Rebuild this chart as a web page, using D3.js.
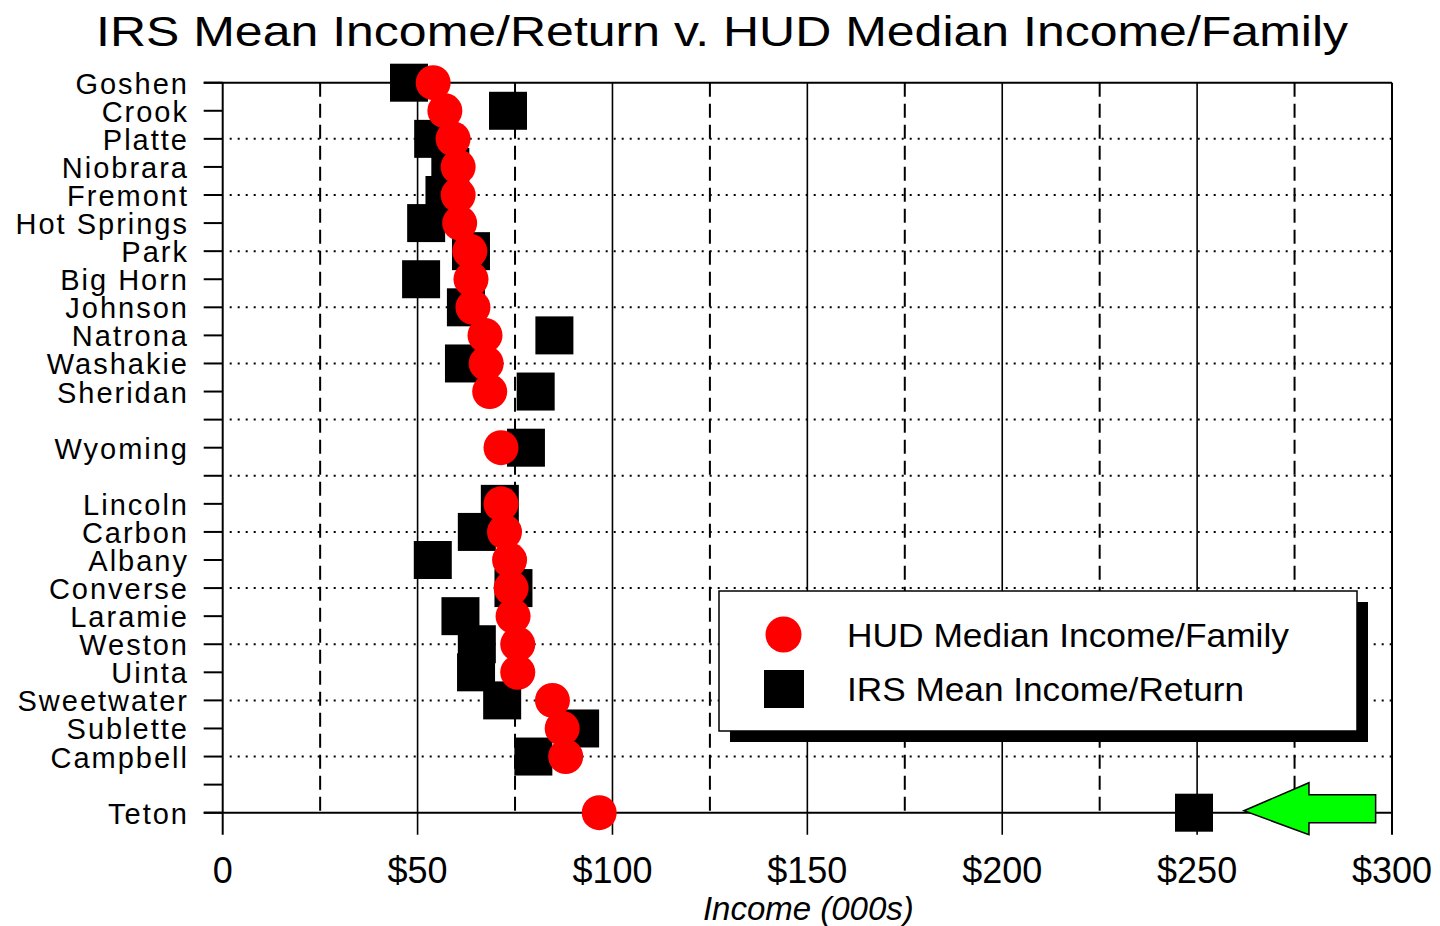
<!DOCTYPE html>
<html>
<head>
<meta charset="utf-8">
<script src="https://cdn.jsdelivr.net/npm/d3@7"></script>
<style>
	body { margin: 0; background: #fff; }
	text { font-family: "Liberation Sans", Arial, sans-serif; }
</style>
</head>
<body>
<div id="chart"></div>
<script>
// rows top to bottom, "" = spacer row
var counties = ["Goshen", "Crook", "Platte", "Niobrara", "Fremont", "Hot Springs", "Park", "Big Horn",
	"Johnson", "Natrona", "Washakie", "Sheridan", "", "Wyoming", "", "Lincoln", "Carbon", "Albany",
	"Converse", "Laramie", "Weston", "Uinta", "Sweetwater", "Sublette", "Campbell", "", "Teton"];

// HUD median income per family (000s)
var hud = [54.0, 57.0, 59.1, 60.4, 60.4, 60.8, 63.4, 63.7, 64.2, 67.3, 67.6, 68.5, null, 71.4, null,
	71.4, 72.3, 73.6, 74.0, 74.5, 75.7, 75.7, 84.6, 87.1, 88.0, null, 96.6];

// IRS mean income per return (000s)
var irs = [47.8, 73.2, 54.0, 58.4, 56.9, 52.2, 63.7, 50.9, 62.4, 85.1, 61.9, 80.3, null, 77.8, null,
	71.1, 65.2, 53.9, 74.6, 61.0, 65.2, 65.0, 71.7, 91.7, 79.7, null, 249.2];

var xTicks = [0, 50, 100, 150, 200, 250, 300];
var xMinor = [25, 75, 125, 175, 225, 275];
var xTickLabels = ["0", "$50", "$100", "$150", "$200", "$250", "$300"];

var W = 1440, H = 926;
var plotL = 222.7, plotR = 1392, plotT = 82.7, plotB = 812.7;

var svg = d3.select("#chart").append("svg")
	.attr("width", W)
	.attr("height", H);

var x = d3.scaleLinear().domain([0, 300]).range([plotL, plotR]);
var y = d3.scalePoint().domain(d3.range(counties.length)).range([plotT, plotB]);

// title
svg.append("text")
	.attr("x", 96)
	.attr("y", 46)
	.attr("font-size", 43)
	.attr("textLength", 1252)
	.attr("lengthAdjust", "spacingAndGlyphs")
	.text("IRS Mean Income/Return v. HUD Median Income/Family");

var grid = svg.append("g");

// dotted horizontal lines every other row
grid.selectAll(".hdot")
	.data(d3.range(2, counties.length - 1, 2))
	.enter().append("line")
	.attr("x1", plotL + 7)
	.attr("x2", plotR)
	.attr("y1", function(d){ return y(d); })
	.attr("y2", function(d){ return y(d); })
	.attr("stroke", "#000")
	.attr("stroke-width", 2)
	.attr("stroke-dasharray", "2,6");

// dashed verticals
grid.selectAll(".vdash")
	.data(xMinor)
	.enter().append("line")
	.attr("x1", function(d){ return x(d); })
	.attr("x2", function(d){ return x(d); })
	.attr("y1", plotT)
	.attr("y2", plotB)
	.attr("stroke", "#000")
	.attr("stroke-width", 2)
	.attr("stroke-dasharray", "14,7");

// solid verticals with ticks under the axis
grid.selectAll(".vsolid")
	.data(xTicks)
	.enter().append("line")
	.attr("x1", function(d){ return x(d); })
	.attr("x2", function(d){ return x(d); })
	.attr("y1", plotT)
	.attr("y2", plotB + 22)
	.attr("stroke", "#000")
	.attr("stroke-width", function(d){ return (d == 0 || d == 300) ? 2 : 1.6; });

// top and bottom lines
grid.append("line")
	.attr("x1", plotL - 19).attr("x2", plotR)
	.attr("y1", plotT).attr("y2", plotT)
	.attr("stroke", "#000").attr("stroke-width", 2);
grid.append("line")
	.attr("x1", plotL - 19).attr("x2", plotR)
	.attr("y1", plotB).attr("y2", plotB)
	.attr("stroke", "#000").attr("stroke-width", 2);

// left ticks + labels
grid.selectAll(".ytick")
	.data(d3.range(counties.length))
	.enter().append("line")
	.attr("x1", plotL - 19)
	.attr("x2", plotL)
	.attr("y1", function(d){ return y(d); })
	.attr("y2", function(d){ return y(d); })
	.attr("stroke", "#000")
	.attr("stroke-width", 2);

svg.selectAll(".ylab")
	.data(counties)
	.enter().append("text")
	.attr("x", 189)
	.attr("y", function(d, i){ return y(i) + 11; })
	.attr("text-anchor", "end")
	.attr("font-size", 29)
	.attr("letter-spacing", 2)
	.text(function(d){ return d; });

// x tick labels
svg.selectAll(".xlab")
	.data(xTicks)
	.enter().append("text")
	.attr("x", function(d){ return x(d); })
	.attr("y", 883)
	.attr("text-anchor", "middle")
	.attr("font-size", 36)
	.text(function(d, i){ return xTickLabels[i]; });

svg.append("text")
	.attr("x", (plotL + plotR) / 2 + 1)
	.attr("y", 920)
	.attr("text-anchor", "middle")
	.attr("font-size", 33)
	.attr("font-style", "italic")
	.text("Income (000s)");

// IRS squares
var sq = 38;
svg.selectAll(".irs")
	.data(irs.map(function(v, i){ return {v: v, i: i}; }).filter(function(d){ return d.v != null; }))
	.enter().append("rect")
	.attr("x", function(d){ return x(d.v) - sq / 2; })
	.attr("y", function(d){ return y(d.i) - sq / 2; })
	.attr("width", sq)
	.attr("height", sq)
	.attr("fill", "#000");

// HUD circles
svg.selectAll(".hud")
	.data(hud.map(function(v, i){ return {v: v, i: i}; }).filter(function(d){ return d.v != null; }))
	.enter().append("circle")
	.attr("cx", function(d){ return x(d.v); })
	.attr("cy", function(d){ return y(d.i); })
	.attr("r", 17.5)
	.attr("fill", "#ff0000");

// green arrow pointing at Teton
var ay = y(counties.length - 1) - 2;
var tipX = x(262), headX = x(278.7), endX = x(295.8);
svg.append("path")
	.attr("d", "M" + tipX + "," + ay +
		" L" + headX + "," + (ay - 28) +
		" L" + headX + "," + (ay - 16) +
		" L" + endX + "," + (ay - 16) +
		" L" + endX + "," + (ay + 12) +
		" L" + headX + "," + (ay + 12) +
		" L" + headX + "," + (ay + 24) + " Z")
	.attr("fill", "#00ff00")
	.attr("stroke", "#000")
	.attr("stroke-width", 1.5);

// legend
var lg = svg.append("g");
lg.append("rect")
	.attr("x", 730).attr("y", 602)
	.attr("width", 638).attr("height", 140)
	.attr("fill", "#000");
lg.append("rect")
	.attr("x", 719).attr("y", 591)
	.attr("width", 638).attr("height", 140)
	.attr("fill", "#fff")
	.attr("stroke", "#000")
	.attr("stroke-width", 1.5);
lg.append("circle")
	.attr("cx", 783.5).attr("cy", 634.5)
	.attr("r", 18)
	.attr("fill", "#ff0000");
lg.append("rect")
	.attr("x", 764).attr("y", 670)
	.attr("width", 40).attr("height", 38)
	.attr("fill", "#000");
lg.append("text")
	.attr("x", 847).attr("y", 647)
	.attr("font-size", 33)
	.attr("textLength", 442)
	.attr("lengthAdjust", "spacingAndGlyphs")
	.text("HUD Median Income/Family");
lg.append("text")
	.attr("x", 847).attr("y", 701)
	.attr("font-size", 33)
	.attr("textLength", 397)
	.attr("lengthAdjust", "spacingAndGlyphs")
	.text("IRS Mean Income/Return");
</script>
</body>
</html>
